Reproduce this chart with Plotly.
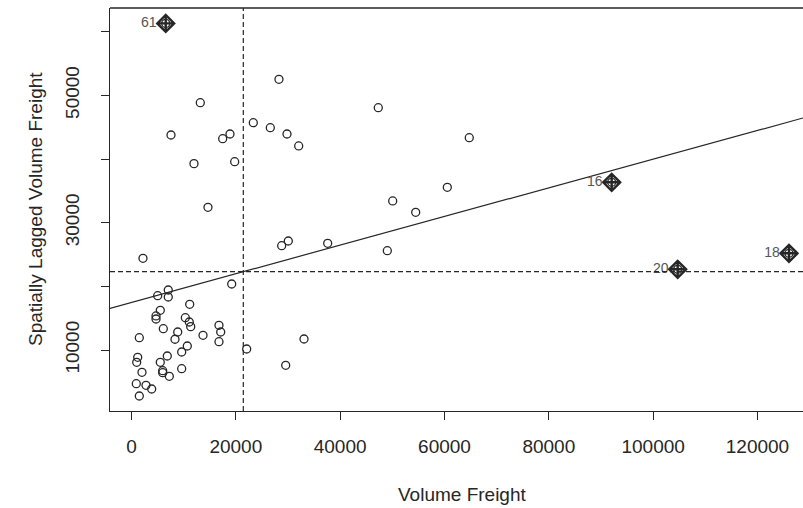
import plotly.graph_objects as go

# ---- data ----
vol_x = [28270, 13190, 7570, 23350, 26610, 29810, 32050, 17480, 18880, 11980,
         19780, 14660, 47310, 64750, 60540, 50070, 54480, 28790, 30060, 37610,
         49040, 19210, 33070, 22080, 29560, 2200, 5020, 7050, 7050, 11160,
         5520, 4700, 4700, 10320, 11080, 11350, 6100, 16770, 17100, 16770,
         13710, 8860, 8340, 1500, 10700, 9620, 1190, 1000, 6860, 5520,
         5980, 5980, 9620, 7250, 2010, 920, 2780, 3870, 1500]
lag_y = [52520, 48850, 43770, 45700, 44920, 43930, 42050, 43190, 43930, 39270,
         39580, 32420, 48060, 43350, 35560, 33410, 31630, 26390, 27120, 26760,
         25600, 20370, 11730, 10160, 7600, 24410, 18530, 19430, 18330, 17180,
         16240, 15350, 14870, 15080, 14400, 13670, 13350, 13880, 12830, 11310,
         12310, 12830, 11690, 11940, 10630, 9690, 8860, 8070, 9060, 8070,
         6750, 6440, 7070, 5870, 6500, 4710, 4460, 3880, 2780]

infl_labels = ["61", "16", "20", "18"]
infl_x = [6560, 92050, 104700, 126040]
infl_y = [61300, 36340, 22680, 25190]

mean_x = 21430
mean_wx = 22300
reg_slope = 0.225
reg_intercept = mean_wx - reg_slope * mean_x

x_ticks = [0, 20000, 40000, 60000, 80000, 100000, 120000]
y_ticks = [10000, 20000, 30000, 40000, 50000, 60000]
y_ticktext = ["10000", "", "30000", "", "50000", ""]

x_range = [-4121, 128725]
y_range = [424, 63718]

INK = "#262626"
FONT = "Liberation Sans, Arial, sans-serif"

fig = go.Figure()

# regression line across the full x range
fig.add_trace(go.Scatter(
    x=x_range,
    y=[reg_intercept + reg_slope * v for v in x_range],
    mode="lines", line=dict(color=INK, width=1.2),
    hoverinfo="skip", showlegend=False))

# all points as open circles
all_x = vol_x + infl_x
all_y = lag_y + infl_y
fig.add_trace(go.Scatter(
    x=all_x, y=all_y, mode="markers",
    marker=dict(symbol="circle-open", size=8, color=INK, line=dict(width=1.3, color=INK)),
    showlegend=False))

# influential points
fig.add_trace(go.Scatter(
    x=infl_x, y=infl_y, mode="markers+text",
    text=infl_labels, textposition="middle left",
    textfont=dict(family=FONT, size=14, color="#555555"),
    marker=dict(symbol="diamond-cross-open", size=13, color=INK, line=dict(width=2.4, color=INK)),
    showlegend=False, cliponaxis=False))

# mean lines
fig.add_shape(type="line", xref="x", yref="paper", x0=mean_x, x1=mean_x, y0=0, y1=1,
              line=dict(color=INK, width=1.2, dash="5px,3px"))
fig.add_shape(type="line", xref="paper", yref="y", x0=0, x1=1, y0=mean_wx, y1=mean_wx,
              line=dict(color=INK, width=1.2, dash="5px,3px"))
# top border of box
fig.add_shape(type="line", xref="paper", yref="paper", x0=0, x1=1, y0=1, y1=1,
              line=dict(color=INK, width=1.3))

fig.update_xaxes(range=x_range, tickvals=x_ticks, ticktext=[str(v) for v in x_ticks],
                 automargin=False,
                 showgrid=False, zeroline=False, showline=True, linecolor=INK, linewidth=1.3,
                 ticks="outside", ticklen=8, tickcolor=INK, tickwidth=1.2,
                 ticklabelstandoff=10,
                 tickfont=dict(family=FONT, size=19, color=INK))
fig.update_yaxes(range=y_range, tickvals=y_ticks, ticktext=y_ticktext,
                 automargin=False,
                 showgrid=False, zeroline=False, showline=True, linecolor=INK, linewidth=1.3,
                 ticks="outside", ticklen=8, tickcolor=INK, tickwidth=1.2,
                 tickangle=-90, ticklabelstandoff=14,
                 tickfont=dict(family=FONT, size=19, color=INK))

fig.add_annotation(text="Volume Freight", xref="paper", yref="paper",
                   x=(462 - 110) / 693, y=(411 - 494) / 403, xanchor="center", yanchor="middle",
                   showarrow=False, font=dict(family=FONT, size=19, color=INK))
fig.add_annotation(text="Spatially Lagged Volume Freight", xref="paper", yref="paper",
                   x=(35 - 110) / 693, y=(411 - 209) / 403, xanchor="center", yanchor="middle",
                   textangle=-90, showarrow=False, font=dict(family=FONT, size=19, color=INK))

fig.update_layout(width=803, height=508, margin=dict(l=110, r=0, t=8, b=97, autoexpand=False),
                  plot_bgcolor="white", paper_bgcolor="white")

fig.write_html("out.html", config={"displayModeBar": False},
               post_script="document.body.style.margin='0';document.body.style.padding='0';"
                           "document.body.style.overflow='hidden';")
